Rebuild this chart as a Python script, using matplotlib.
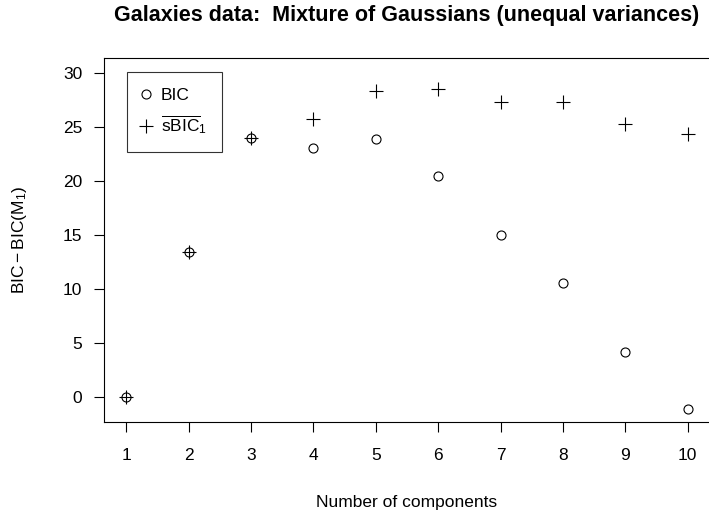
import numpy as np
import matplotlib
matplotlib.use("Agg")
import matplotlib.pyplot as plt

plt.rcParams['font.family'] = ['Liberation Sans', 'DejaVu Sans']
plt.rcParams['mathtext.fontset'] = 'custom'
plt.rcParams['mathtext.rm'] = 'Liberation Sans'
plt.rcParams['mathtext.it'] = 'Liberation Sans:italic'

# values
components = [1, 2, 3, 4, 5, 6, 7, 8, 9, 10]
bic = [0.0, 13.45, 23.95, 23.08, 23.86, 20.45, 15.0, 10.6, 4.17, -1.14]
sbic = [0.0, 13.45, 23.95, 25.7, 28.33, 28.55, 27.35, 27.3, 25.3, 24.35]
yticks = [0, 5, 10, 15, 20, 25, 30]

fig = plt.figure(figsize=(7.09, 5.21), dpi=100)
ax = fig.add_axes([104 / 709, 1 - 422.3 / 521, (710 - 104) / 709, (422.3 - 58.3) / 521])

ax.plot(components, bic, linestyle='none', marker='o', markersize=6.5,
        markerfacecolor='none', markeredgecolor='black', markeredgewidth=0.8,
        label='BIC')
ax.plot(components, sbic, linestyle='none', marker='+', markersize=9.5,
        color='black', markeredgewidth=0.8,
        label=r'$\overline{\mathrm{sBIC}}_1$')

ax.set_xlim(0.64, 10.36)
ax.set_ylim(-2.34, 31.36)
ax.set_xticks(components)
ax.set_yticks(yticks)
ax.tick_params(direction='out', length=7.5, width=0.8, labelsize=12.5)
ax.tick_params(axis='y', pad=8)
ax.tick_params(axis='x', pad=11)
for s in ax.spines.values():
    s.set_linewidth(0.8)

leg = ax.legend(loc='upper left', bbox_to_anchor=(0.038, 0.962), borderaxespad=0,
                frameon=True, fancybox=False, edgecolor='black', fontsize=12.5,
                handletextpad=0.65, borderpad=0.9, labelspacing=0.6,
                handlelength=0.4)
leg.get_frame().set_linewidth(0.8)

fig.text((104 + 710) / 2 / 709, 1 - 16 / 521,
         'Galaxies data:  Mixture of Gaussians (unequal variances)',
         ha='center', va='center', fontsize=15.5, fontweight='bold')
fig.text((104 + 710) / 2 / 709, 1 - 503 / 521, 'Number of components',
         ha='center', va='center', fontsize=12.5)
fig.text(20 / 709, 1 - 240 / 521, r'$\mathrm{BIC} - \mathrm{BIC(M}_1\mathrm{)}$',
         ha='center', va='center', rotation=90, fontsize=12.5)

fig.savefig('out.png', dpi=100)
